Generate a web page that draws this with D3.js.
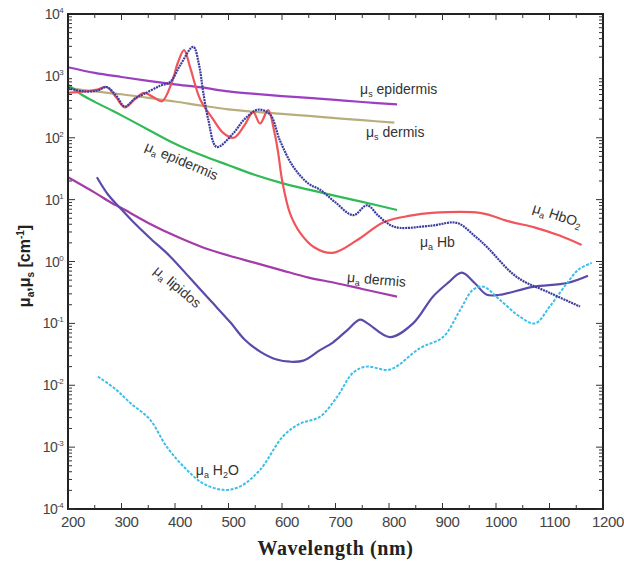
<!DOCTYPE html>
<html lang="en">
<head>
<meta charset="utf-8">
<title>Skin absorption and scattering coefficients</title>
<script src="https://cdn.jsdelivr.net/npm/d3@7"></script>
<style>
  body { margin: 0; background: #fff; }
  svg { display: block; font-family: "Liberation Sans", Arial, sans-serif; }
</style>
</head>
<body>
<div id="chart"></div>
<script>
// [wavelength nm, coefficient cm^-1]
var muSEpidermis = [[200,1380],[250,1120],[300,960],[350,830],[400,730],[450,650],[500,560],[550,510],
  [600,470],[650,440],[700,410],[750,378],[815,345]];
var muSDermis = [[200,640],[250,560],[300,505],[350,440],[400,385],[450,330],[500,288],[550,262],
  [600,243],[650,225],[700,208],[750,192],[810,175]];
var muAEpidermis = [[200,720],[225,500],[250,380],[280,282],[300,230],[350,135],[400,80],[450,52],
  [500,36],[550,25],[600,18.5],[650,14.5],[700,11.5],[750,9.2],[815,6.8]];
var muAHbO2 = [[200,530],[230,560],[255,600],[272,660],[290,450],[306,310],[325,420],[342,530],
  [360,450],[376,390],[394,780],[405,1600],[417,2600],[428,1400],[447,420],[471,200],[490,120],
  [510,100],[530,160],[546,260],[559,170],[574,280],[586,120],[593,56],[600,21],[615,6],[634,2.9],
  [660,1.7],[695,1.38],[740,2.2],[790,4.3],[840,5.5],[880,6.1],[970,6.1],[1026,4.4],[1070,3.6],
  [1120,2.6],[1160,1.85]];
var muAHb = [[200,640],[230,560],[255,580],[272,660],[290,480],[306,320],[325,430],[342,510],
  [372,690],[391,800],[410,1500],[434,2950],[445,1500],[452,600],[462,200],[478,71],[509,118],
  [530,200],[556,285],[578,235],[596,91],[621,34],[650,18],[671,14.5],[700,9],[733,5.6],[759,8.1],
  [780,5.5],[802,3.9],[820,3.5],[880,3.8],[927,4.2],[960,2.6],[983,1.72],[1039,0.56],[1101,0.31],
  [1157,0.187]];
var muADermis = [[200,23],[250,13],[280,9],[300,7.3],[350,4.2],[400,2.6],[450,1.72],[500,1.25],
  [550,0.95],[600,0.72],[650,0.55],[700,0.45],[750,0.36],[815,0.27]];
var muALipidos = [[254,23],[275,12],[297,7.4],[325,4.1],[353,2.4],[390,1.23],[428,0.54],[465,0.24],
  [503,0.105],[530,0.055],[559,0.035],[590,0.026],[615,0.024],[640,0.025],[671,0.037],[695,0.049],
  [720,0.075],[746,0.115],[760,0.1],[802,0.06],[845,0.1],[882,0.27],[910,0.45],[936,0.66],
  [960,0.45],[983,0.29],[1007,0.29],[1069,0.39],[1133,0.45],[1172,0.59]];
var muAH2O = [[256,0.0138],[290,0.0085],[316,0.0052],[353,0.0028],[385,0.001],[422,0.00043],
  [452,0.00026],[490,0.000204],[521,0.00023],[559,0.00043],[602,0.0015],[634,0.0024],[671,0.0031],
  [703,0.0065],[733,0.016],[758,0.02],[802,0.018],[858,0.04],[901,0.06],[933,0.165],[957,0.35],
  [977,0.39],[1007,0.24],[1045,0.128],[1073,0.1],[1101,0.19],[1133,0.45],[1155,0.75],[1179,0.95]];

var xTicks = [200,300,400,500,600,700,800,900,1000,1100,1200];
var yExponents = [4,3,2,1,0,-1,-2,-3,-4];

var series = [
  {data: muSEpidermis, color: "#9b3fc2", width: 2.2},
  {data: muSDermis,    color: "#b9ad7c", width: 2.2},
  {data: muAEpidermis, color: "#2fba55", width: 2.2},
  {data: muADermis,    color: "#a33caa", width: 2.2},
  {data: muALipidos,   color: "#5a4bab", width: 2.2},
  {data: muAH2O,       color: "#3dbfe9", width: 2, dash: "3,1.5"},
  {data: muAHbO2,      color: "#f2545b", width: 2.2},
  {data: muAHb,        color: "#3a3d9d", width: 2.2, dash: "2,0.8"}
];

// curve labels: sub = subscript letter, anchored in data coords
var labels = [
  {sub: "s", text: "epidermis", at: [746, 515]},
  {sub: "s", text: "dermis", at: [757, 103]},
  {sub: "a", text: "epidermis", at: [409, 36], rot: 23, mid: true},
  {sub: "a", text: "HbO", tail: "2", at: [1112, 4.7], rot: 18, mid: true},
  {sub: "a", text: "Hb", at: [858, 1.72]},
  {sub: "a", text: "dermis", at: [721, 0.47], rot: 5},
  {sub: "a", text: "lipidos", at: [399, 0.34], rot: 40, mid: true},
  {sub: "a", text: "H", tail: "2", after: "O", at: [439, 0.00035]}
];

var width = 624, height = 561;
var margin = {top: 14, right: 21, bottom: 52, left: 68};

var svg = d3.select("#chart").append("svg")
  .attr("width", width).attr("height", height);

var x = d3.scaleLinear().domain([200, 1200]).range([margin.left, width - margin.right]);
var y = d3.scaleLog().domain([1e-4, 1e4]).range([height - margin.bottom, margin.top]);

var line = d3.line()
  .x(function(d) { return x(d[0]); })
  .y(function(d) { return y(d[1]); })
  .curve(d3.curveCatmullRom.alpha(0.5));

svg.append("g").selectAll("path")
  .data(series)
  .enter().append("path")
  .attr("d", function(d) { return line(d.data); })
  .attr("fill", "none")
  .attr("stroke", function(d) { return d.color; })
  .attr("stroke-width", function(d) { return d.width; })
  .attr("stroke-dasharray", function(d) { return d.dash || null; })
  .attr("stroke-linejoin", "round");

// frame
var x0 = x.range()[0], x1 = x.range()[1], y0 = y.range()[0], y1 = y.range()[1];
svg.append("rect")
  .attr("x", x0).attr("y", y1).attr("width", x1 - x0).attr("height", y0 - y1)
  .attr("fill", "none").attr("stroke", "#222").attr("stroke-width", 2);

// inward ticks on all four sides
var ticks = svg.append("g").attr("stroke", "#333").attr("stroke-width", 1);
d3.range(250, 1200, 50).forEach(function(v) {
  var len = v % 100 === 0 ? 6 : 4;
  ticks.append("line").attr("x1", x(v)).attr("x2", x(v)).attr("y1", y0).attr("y2", y0 - len);
  ticks.append("line").attr("x1", x(v)).attr("x2", x(v)).attr("y1", y1).attr("y2", y1 + len);
});
yExponents.forEach(function(e) {
  if (e === -4) return;
  for (var m = 1; m <= 9; m++) {
    var v = m * Math.pow(10, e - 1);
    var yy = y(v), len = m === 1 ? 7 : 4;
    if (m === 1 && e === 4) continue;
    ticks.append("line").attr("x1", x0).attr("x2", x0 + len).attr("y1", yy).attr("y2", yy);
    ticks.append("line").attr("x1", x1).attr("x2", x1 - len).attr("y1", yy).attr("y2", yy);
  }
});

// tick labels
svg.append("g").selectAll("text")
  .data(xTicks)
  .enter().append("text")
  .attr("x", function(d) { return x(d) + 5; })
  .attr("y", y0 + 18)
  .attr("text-anchor", "middle")
  .attr("font-size", 15)
  .attr("fill", "#444")
  .attr("letter-spacing", -0.4)
  .text(function(d) { return d; });

var yl = svg.append("g").selectAll("text")
  .data(yExponents)
  .enter().append("text")
  .attr("x", x0 - 5)
  .attr("y", function(d) { return y(Math.pow(10, d)) + 5; })
  .attr("text-anchor", "end")
  .attr("font-size", 14)
  .attr("fill", "#444")
  .attr("letter-spacing", -0.6);
yl.append("tspan").text("10");
yl.append("tspan")
  .attr("dy", -6).attr("font-size", 8)
  .text(function(d) { return d; });

// axis titles
svg.append("text")
  .attr("x", (x0 + x1) / 2)
  .attr("y", y0 + 46)
  .attr("text-anchor", "middle")
  .attr("font-family", "'Liberation Serif', 'Times New Roman', serif")
  .attr("font-weight", "bold")
  .attr("font-size", 20)
  .attr("letter-spacing", 0.6)
  .attr("fill", "#222")
  .text("Wavelength (nm)");

var yt = svg.append("text")
  .attr("transform", "translate(30,266) rotate(-90)")
  .attr("text-anchor", "middle")
  .attr("font-weight", "bold")
  .attr("font-size", 16)
  .attr("fill", "#222");
yt.append("tspan").text("\u03BC");
yt.append("tspan").attr("dy", 4).attr("font-size", 10).text("a");
yt.append("tspan").attr("dy", -4).text(",\u03BC");
yt.append("tspan").attr("dy", 4).attr("font-size", 10).text("s");
yt.append("tspan").attr("dy", -4).text(" [cm");
yt.append("tspan").attr("dy", -6).attr("font-size", 10).text("-1");
yt.append("tspan").attr("dy", 6).text("]");

// curve labels
labels.forEach(function(l) {
  var px = x(l.at[0]), py = y(l.at[1]);
  var t = svg.append("text")
    .attr("transform", "translate(" + px + "," + py + ") rotate(" + (l.rot || 0) + ")")
    .attr("text-anchor", l.mid ? "middle" : "start")
    .attr("font-size", 14)
    .attr("fill", "#333")
    .attr("letter-spacing", 0);
  t.append("tspan").text("\u03BC");
  t.append("tspan").attr("dy", 3).attr("font-size", 9).text(l.sub);
  t.append("tspan").attr("dy", -3).text(" " + l.text);
  if (l.tail) t.append("tspan").attr("dy", 3).attr("font-size", 9).text(l.tail);
  if (l.after) t.append("tspan").attr("dy", -3).text(l.after);
});
</script>
</body>
</html>
